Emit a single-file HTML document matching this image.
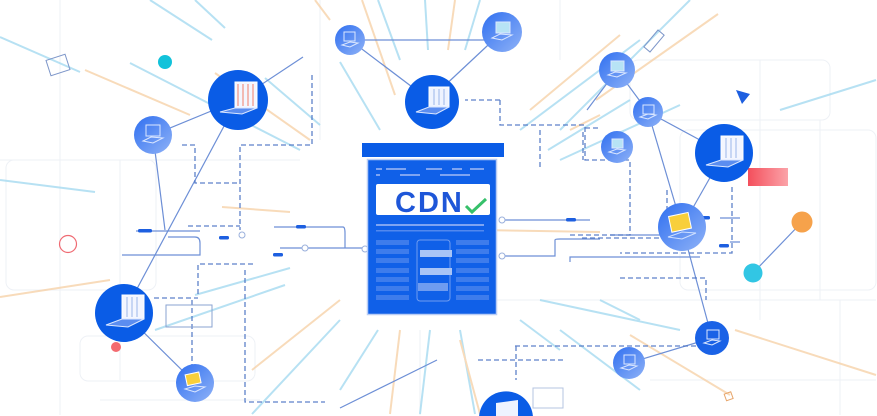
<!DOCTYPE html>
<html><head><meta charset="utf-8"><style>
html,body{margin:0;padding:0;background:#fff;width:877px;height:416px;overflow:hidden;position:relative}
svg{position:absolute;left:0;top:0}
</style></head><body>
<svg width="877" height="416" viewBox="0 0 877 416" xmlns="http://www.w3.org/2000/svg">
<defs>
<linearGradient id="lg" x1="0" y1="0" x2="1" y2="1"><stop offset="0" stop-color="#2f6ff0"/><stop offset="1" stop-color="#8fb2f7"/></linearGradient>
<linearGradient id="rr" x1="0" x2="1"><stop offset="0" stop-color="#f44f5c"/><stop offset="1" stop-color="#fba3a9"/></linearGradient>
</defs>
<g stroke="#eef1f6" stroke-width="1" fill="none">
<path d="M60 0V415M120 160V380M320 0V140M420 330V415M760 60V320M820 120V300M840 300V415M0 160H300M480 300H876M560 0V60M100 400H260M650 380H876"/>
<rect x="6" y="160" width="150" height="130" rx="8"/><rect x="80" y="336" width="175" height="45" rx="8"/><rect x="630" y="60" width="200" height="60" rx="8"/><rect x="680" y="130" width="196" height="160" rx="8"/>
</g>
<g stroke-linecap="butt" stroke-width="2" opacity="0.75">
<g stroke="#9fd8ef">
<line x1="150" y1="0" x2="212" y2="40"/><line x1="195" y1="0" x2="225" y2="28"/><line x1="0" y1="37" x2="80" y2="72"/><line x1="130" y1="63" x2="300" y2="150"/><line x1="0" y1="180" x2="95" y2="192"/><line x1="265" y1="78" x2="320" y2="125"/><line x1="340" y1="62" x2="380" y2="130"/><line x1="378" y1="0" x2="400" y2="60"/><line x1="425" y1="0" x2="428" y2="50"/><line x1="480" y1="0" x2="465" y2="50"/><line x1="520" y1="130" x2="640" y2="40"/><line x1="560" y1="130" x2="690" y2="0"/><line x1="548" y1="150" x2="630" y2="100"/><line x1="560" y1="160" x2="680" y2="105"/><line x1="780" y1="110" x2="876" y2="80"/><line x1="195" y1="295" x2="290" y2="268"/><line x1="155" y1="330" x2="285" y2="285"/><line x1="252" y1="414" x2="340" y2="320"/><line x1="340" y1="390" x2="378" y2="330"/><line x1="420" y1="414" x2="430" y2="330"/><line x1="475" y1="414" x2="460" y2="330"/><line x1="540" y1="300" x2="680" y2="330"/><line x1="560" y1="330" x2="640" y2="390"/><line x1="520" y1="320" x2="560" y2="350"/><line x1="600" y1="300" x2="640" y2="320"/>
</g>
<g stroke="#f6cfa4">
<line x1="85" y1="70" x2="190" y2="115"/><line x1="215" y1="73" x2="310" y2="140"/><line x1="0" y1="297" x2="110" y2="280"/><line x1="222" y1="207" x2="290" y2="212"/><line x1="315" y1="0" x2="330" y2="20"/><line x1="362" y1="0" x2="395" y2="95"/><line x1="455" y1="0" x2="448" y2="50"/><line x1="530" y1="110" x2="620" y2="35"/><line x1="596" y1="100" x2="718" y2="14"/><line x1="570" y1="130" x2="600" y2="115"/><line x1="252" y1="370" x2="340" y2="300"/><line x1="390" y1="414" x2="400" y2="330"/><line x1="460" y1="340" x2="480" y2="414"/><line x1="630" y1="335" x2="730" y2="395"/><line x1="735" y1="330" x2="876" y2="375"/><line x1="480" y1="230" x2="600" y2="232"/>
</g>
</g>
<g stroke="#6d8fd6" stroke-width="1.2" fill="none">
<line x1="153" y1="135" x2="238" y2="100"/><line x1="153" y1="135" x2="165" y2="230"/><line x1="238" y1="100" x2="124" y2="313"/><line x1="238" y1="100" x2="303" y2="57"/><line x1="124" y1="313" x2="195" y2="383"/>
<line x1="350" y1="40" x2="432" y2="102"/><line x1="350" y1="40" x2="502" y2="40"/><line x1="502" y1="32" x2="440" y2="90"/>
<line x1="617" y1="70" x2="648" y2="112"/><line x1="617" y1="70" x2="587" y2="110"/><line x1="648" y1="112" x2="724" y2="153"/><line x1="648" y1="112" x2="682" y2="227"/><line x1="724" y1="153" x2="682" y2="227"/><line x1="682" y1="227" x2="712" y2="338"/><line x1="712" y1="338" x2="629" y2="363"/><line x1="802" y1="222" x2="753" y2="273"/>
<path d="M136 231H200M168 237H195Q200 237 200 243V255H122M274 227H343Q345 227 345 233V248H372M280 248H372M304 248H285M500 220H590M500 256H555V240Q555 239 560 239H600M570 262V257H700M610 235H700M720 218H740M730 242H740"/>
<line x1="340" y1="408" x2="437" y2="360"/>
</g>
<g stroke="#4c74c4" stroke-width="1.3" fill="none" stroke-dasharray="5 3" opacity="0.9">
<path d="M312 75V145H240V230M182 145H195V183H240M188 226H240M198 294V264H255M245 270V402H325M154 298H198M192 300V378M500 100H500V125H585V160H630V235H570M500 100H465M585 128H600M540 130V170M583 132V160M667 190V238H580M732 187V253H620M620 278H706V300M515 346H700M478 360H565M516 346V380"/>
</g>
<g fill="#1d5fe0">
<rect x="138" y="229" width="14" height="3.5" rx="1.5"/><rect x="219" y="236" width="10" height="3.5" rx="1.5"/><rect x="296" y="225" width="10" height="3.5" rx="1.5"/><rect x="273" y="253" width="10" height="3.5" rx="1.5"/><rect x="566" y="218" width="10" height="3.5" rx="1.5"/><rect x="700" y="216" width="10" height="3.5" rx="1.5"/><rect x="719" y="244" width="10" height="3.5" rx="1.5"/>
</g>
<g fill="#fff" stroke="#9ab0dc" stroke-width="1"><circle cx="305" cy="248" r="3"/><circle cx="242" cy="235" r="3"/><circle cx="365" cy="249" r="3"/><circle cx="502" cy="220" r="3"/><circle cx="502" cy="256" r="3"/></g>
<rect x="48" y="57" width="20" height="16" fill="none" stroke="#7d96c9" stroke-width="1" transform="rotate(-18 58 65)"/>
<rect x="166" y="305" width="46" height="22" fill="none" stroke="#8aa3d2" stroke-width="1"/>
<rect x="533" y="388" width="30" height="20" fill="none" stroke="#b5c4e1" stroke-width="1"/>
<rect x="650" y="30" width="8" height="22" fill="none" stroke="#7d96c9" stroke-width="1" transform="rotate(40 654 41)"/>
<rect x="725" y="393" width="7" height="7" fill="none" stroke="#e7a56a" stroke-width="1" transform="rotate(-20 728 396)"/>
<circle cx="165" cy="62" r="7" fill="#12c2da"/>
<circle cx="68" cy="244" r="8.5" fill="none" stroke="#ef6b73" stroke-width="1.2"/>
<circle cx="116" cy="347" r="5" fill="#f36b70"/>
<rect x="748" y="168" width="40" height="18" fill="url(#rr)"/>
<path d="M736 90L750 94L742 104Z" fill="#1d5fe0"/>
<circle cx="802" cy="222" r="10.5" fill="#f6a24b"/>
<circle cx="753" cy="273" r="9.5" fill="#32c6e4"/>
<g>
<circle cx="238" cy="100" r="30" fill="#0a5ce6"/>
<circle cx="124" cy="313" r="29" fill="#0a5ce6"/>
<circle cx="432" cy="102" r="27" fill="#0a5ce6"/>
<circle cx="724" cy="153" r="29" fill="#0a5ce6"/>
<path d="M479.1 416A27 27 0 0 1 532.9 416Z" fill="#0a5ce6"/>
<path d="M496 403L518 400L518 416L496 416Z" fill="#eef3ff"/>
<circle cx="712" cy="338" r="17" fill="#1a62e6"/>
<circle cx="153" cy="135" r="19" fill="url(#lg)"/>
<circle cx="195" cy="383" r="19" fill="url(#lg)"/>
<circle cx="350" cy="40" r="15" fill="url(#lg)"/>
<circle cx="502" cy="32" r="20" fill="url(#lg)"/>
<circle cx="617" cy="70" r="18" fill="url(#lg)"/>
<circle cx="648" cy="112" r="15" fill="url(#lg)"/>
<circle cx="617" cy="147" r="16" fill="url(#lg)"/>
<circle cx="682" cy="227" r="24" fill="url(#lg)"/>
<circle cx="629" cy="363" r="16" fill="url(#lg)"/>
</g>
<g fill="none" stroke="#dbe7ff" stroke-width="1">
<g transform="translate(238 100)"><rect x="-3" y="-18" width="22" height="26" fill="#f3f6ff" stroke="#fff"/><path d="M0 -16V6M5 -16V6M10 -16V6M15 -16V6" stroke="#f27d6a"/><path d="M-18 12L-3 8L19 8L4 14Z" fill="#5b8df0"/></g>
<g transform="translate(124 313)"><rect x="-2" y="-18" width="22" height="24" fill="#f3f6ff" stroke="#fff"/><path d="M3 -16V4M8 -16V4M13 -16V4" stroke="#9bb5ea"/><path d="M-18 12L-2 6L20 6L4 14Z" fill="#5b8df0"/></g>
<g transform="translate(432 102)"><rect x="-3" y="-15" width="20" height="20" fill="#eef3ff" stroke="#fff"/><path d="M2 -13V3M7 -13V3M12 -13V3" stroke="#9bb5ea"/><path d="M-16 10L-3 5L17 5L4 12Z" fill="#5b8df0"/></g>
<g transform="translate(724 153)"><rect x="-3" y="-17" width="22" height="24" fill="#f3f6ff" stroke="#fff"/><path d="M2 -15V5M7 -15V5M12 -15V5" stroke="#9bb5ea"/><path d="M-18 12L-3 7L19 7L4 14Z" fill="#5b8df0"/></g>
<g transform="translate(682 227)"><rect x="-11" y="-13" width="20" height="16" fill="#f8cf3b" stroke="#fff" transform="rotate(-12)"/><path d="M-14 10L0 5L14 6L0 12Z" stroke="#cfe0ff"/></g>
<g transform="translate(195 383)"><rect x="-8" y="-10" width="14" height="11" fill="#f8cf3b" stroke="#fff" transform="rotate(-12)"/><path d="M-10 6L0 3L10 4L0 9Z"/></g>
<g transform="translate(153 135)"><rect x="-7" y="-10" width="14" height="11"/><path d="M-10 6L-2 2L10 3L0 8Z"/></g>
<g transform="translate(350 40)"><rect x="-6" y="-8" width="11" height="9"/><path d="M-8 5L0 2L8 3L0 7Z"/></g>
<g transform="translate(502 32)"><rect x="-6" y="-10" width="14" height="11" fill="#b7e3f5"/><path d="M-10 6L-2 2L10 3L0 8Z"/></g>
<g transform="translate(617 70)"><rect x="-6" y="-9" width="13" height="10" fill="#b7e3f5"/><path d="M-9 5L-2 2L9 3L0 7Z"/></g>
<g transform="translate(648 112)"><rect x="-5" y="-7" width="11" height="9"/><path d="M-8 5L0 2L8 3L0 7Z"/></g>
<g transform="translate(617 147)"><rect x="-5" y="-8" width="11" height="9" fill="#b7e3f5"/><path d="M-8 5L0 2L8 3L0 7Z"/></g>
<g transform="translate(712 338)"><rect x="-5" y="-8" width="12" height="9"/><path d="M-8 5L0 2L8 3L0 7Z"/></g>
<g transform="translate(629 363)"><rect x="-5" y="-8" width="11" height="9"/><path d="M-8 5L0 2L8 3L0 7Z"/></g>
</g>
<rect x="362" y="143" width="142" height="14" fill="#0a5ce6"/>
<rect x="367.5" y="159.5" width="129" height="155" fill="#1060e8" stroke="#b9cdf5" stroke-width="1.5"/>
<g fill="#7ea4f2">
<rect x="376" y="168" width="6" height="2"/><rect x="386" y="168" width="20" height="2"/><rect x="426" y="168" width="16" height="2"/><rect x="452" y="168" width="10" height="2"/><rect x="470" y="168" width="14" height="2"/>
<rect x="376" y="174" width="4" height="2"/><rect x="400" y="174" width="20" height="2"/><rect x="440" y="174" width="30" height="2"/>
<rect x="376" y="224" width="108" height="2"/><rect x="376" y="230" width="108" height="1.5" opacity=".6"/>
</g>
<rect x="376" y="184" width="114" height="31" rx="2" fill="#fff"/>
<text x="395" y="212" font-family="Liberation Sans, sans-serif" font-weight="bold" font-size="29" fill="#1e56d8" letter-spacing="2">CDN</text>
<path d="M466 206L472 212L486 199" stroke="#36c06a" stroke-width="3" fill="none"/>
<g fill="#3e7cec">
<rect x="376" y="240" width="33" height="5"/><rect x="376" y="249" width="33" height="5"/><rect x="376" y="258" width="33" height="5"/><rect x="376" y="268" width="33" height="5"/><rect x="376" y="277" width="33" height="5"/><rect x="376" y="286" width="33" height="5"/><rect x="376" y="295" width="33" height="5"/>
<rect x="456" y="240" width="33" height="5"/><rect x="456" y="249" width="33" height="5"/><rect x="456" y="258" width="33" height="5"/><rect x="456" y="268" width="33" height="5"/><rect x="456" y="277" width="33" height="5"/><rect x="456" y="286" width="33" height="5"/><rect x="456" y="295" width="33" height="5"/>
</g>
<rect x="417" y="240" width="33" height="61" rx="3" fill="none" stroke="#6f9cf0" stroke-width="1"/>
<rect x="420" y="250" width="32" height="7" fill="#a8c4f6"/><rect x="420" y="268" width="32" height="7" fill="#a8c4f6"/><rect x="418" y="283" width="30" height="8" fill="#6f9cf0"/>
</svg>
</body></html>
